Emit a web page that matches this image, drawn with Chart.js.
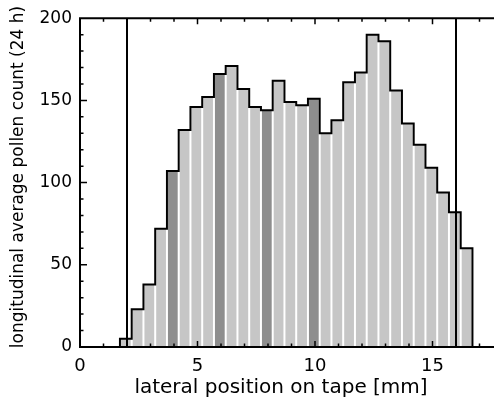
<!DOCTYPE html>
<html>
<head>
<meta charset="utf-8">
<script src="https://cdn.jsdelivr.net/npm/chart.js@4.4.1/dist/chart.umd.min.js"></script>
<style>
  html, body { margin: 0; padding: 0; background: #fff; overflow: hidden; }
  #wrap { position: relative; width: 494px; height: 402px; overflow: hidden; }
  #histChart { display: block; }
</style>
</head>
<body>
<div id="wrap"><canvas id="histChart" width="505" height="402"></canvas></div>
<script>
// bin centres along the tape [mm] and averaged counts
const binCenters = [1.95, 2.45, 2.95, 3.45, 3.95, 4.45, 4.95, 5.45, 5.95, 6.45,
                    6.95, 7.45, 7.95, 8.45, 8.95, 9.45, 9.95, 10.45, 10.95, 11.45,
                    11.95, 12.45, 12.95, 13.45, 13.95, 14.45, 14.95, 15.45, 15.95, 16.45];
const pollenCounts = [5, 23, 38, 72, 107, 132, 146, 152, 166, 171,
                      157, 146, 144, 162, 149, 147, 151, 130, 138, 161,
                      167, 190, 186, 156, 136, 123, 109, 94, 82, 60];
const darkBins = [3.95, 5.95, 7.95, 9.95];
const markerLines = [2, 16];
const binWidth = 0.5;
const xTickLabels = [0, 5, 10, 15];
const yTickLabels = [0, 50, 100, 150, 200];

const LIGHT = '#c6c6c6';
const DARK = '#8e8e8e';
const FONT = 'DejaVu Sans';

// step outline built from the bins
const outline = [{ x: binCenters[0] - binWidth / 2, y: 0 }];
binCenters.forEach(function(c, i) {
    outline.push({ x: c - binWidth / 2, y: pollenCounts[i] });
});
const last = binCenters.length - 1;
outline.push({ x: binCenters[last] + binWidth / 2, y: pollenCounts[last] });
outline.push({ x: binCenters[last] + binWidth / 2, y: 0 });

const lineSets = markerLines.map(function(m) {
    return {
        type: 'line',
        data: [{ x: m, y: 0 }, { x: m, y: 200 }],
        borderColor: '#000',
        borderWidth: 2,
        pointRadius: 0,
        order: 0
    };
});

// frame (right side runs off the picture), inward ticks and axis titles
const framePlugin = {
    id: 'frame',
    afterDatasetsDraw: function(chart) {
        const ctx = chart.ctx;
        const a = chart.chartArea;
        const xs = chart.scales.x, ys = chart.scales.y;
        ctx.save();
        ctx.strokeStyle = '#000';
        ctx.lineWidth = 2;
        ctx.beginPath();
        ctx.moveTo(chart.width, a.top); ctx.lineTo(a.left, a.top);
        ctx.lineTo(a.left, a.bottom); ctx.lineTo(chart.width, a.bottom);
        ctx.stroke();
        ctx.lineWidth = 1.5;
        ctx.beginPath();
        for (let v = xs.min + 1; v < xs.max; v += 1) {
            const px = xs.getPixelForValue(v);
            const len = v % 5 === 0 ? 6 : 3.5;
            ctx.moveTo(px, a.bottom); ctx.lineTo(px, a.bottom - len);
            ctx.moveTo(px, a.top); ctx.lineTo(px, a.top + len);
        }
        for (let v = ys.min + 10; v < ys.max; v += 10) {
            const py = ys.getPixelForValue(v);
            const len = v % 50 === 0 ? 7 : 3.5;
            ctx.moveTo(a.left, py); ctx.lineTo(a.left + len, py);
        }
        ctx.stroke();

        ctx.fillStyle = '#000';
        ctx.textAlign = 'center';
        ctx.textBaseline = 'middle';
        ctx.font = '20px "' + FONT + '"';
        ctx.fillText('lateral position on tape [mm]', 281, 388);
        ctx.font = '17px "' + FONT + '"';
        ctx.translate(19, 177);
        ctx.rotate(-Math.PI / 2);
        ctx.fillText('longitudinal average pollen count (24 h)', 0, 0);
        ctx.restore();
    }
};

new Chart(document.getElementById('histChart').getContext('2d'), {
    type: 'bar',
    data: {
        datasets: [{
            type: 'bar',
            data: binCenters.map(function(c, i) { return { x: c, y: pollenCounts[i] }; }),
            backgroundColor: binCenters.map(function(c) {
                return darkBins.indexOf(c) >= 0 ? DARK : LIGHT;
            }),
            barPercentage: 0.83,
            categoryPercentage: 1.0,
            order: 2
        }, {
            type: 'line',
            data: outline,
            borderColor: '#000',
            borderWidth: 2,
            pointRadius: 0,
            stepped: 'before',
            order: 1
        }].concat(lineSets)
    },
    options: {
        responsive: false,
        animation: false,
        devicePixelRatio: 1,
        layout: { padding: { top: 14, left: 0, right: 2, bottom: 0 } },
        plugins: { legend: { display: false }, tooltip: { enabled: false } },
        scales: {
            x: {
                type: 'linear',
                min: 0,
                max: 18,
                offset: false,
                grid: { display: false, drawTicks: false },
                border: { display: false },
                afterBuildTicks: function(s) { s.ticks = xTickLabels.map(function(v) { return { value: v }; }); },
                afterFit: function(s) { s.height = 55; },
                ticks: { color: '#000', padding: 9, maxRotation: 0, font: { family: FONT, size: 18 } }
            },
            y: {
                min: 0,
                max: 200,
                grid: { display: false, drawTicks: false },
                border: { display: false },
                afterBuildTicks: function(s) { s.ticks = yTickLabels.map(function(v) { return { value: v }; }); },
                afterFit: function(s) { s.width = 80; },
                ticks: { color: '#000', padding: 8, font: { family: FONT, size: 17 } }
            }
        }
    },
    plugins: [framePlugin]
});
</script>
</body>
</html>
